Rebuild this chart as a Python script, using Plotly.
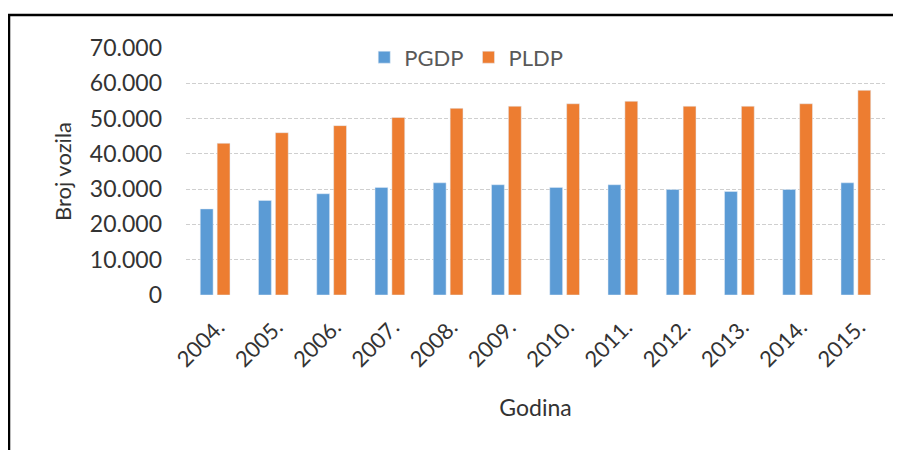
import plotly.graph_objects as go

years = ["2004.", "2005.", "2006.", "2007.", "2008.", "2009.",
         "2010.", "2011.", "2012.", "2013.", "2014.", "2015."]
pgdp = [24400, 26800, 28700, 30500, 31800, 31250,
        30500, 31250, 29900, 29350, 29900, 31800]
pldp = [43000, 46000, 48000, 50300, 52900, 53500,
        54200, 54900, 53500, 53500, 54200, 58000]
y_ticks = [0, 10000, 20000, 30000, 40000, 50000, 60000, 70000]
y_labels = ["0", "10.000", "20.000", "30.000", "40.000", "50.000", "60.000", "70.000"]

FONT = "Lato"

fig = go.Figure()
fig.add_trace(go.Bar(x=years, y=pgdp, name="PGDP", marker_color="#5B9BD5"))
fig.add_trace(go.Bar(x=years, y=pldp, name="PLDP", marker_color="#ED7D31"))

# page has an 8px body margin, so the figure is a bit smaller than the window
fig.update_layout(
    width=893, height=442,
    margin=dict(l=178, r=16, t=40, b=155),
    paper_bgcolor="white", plot_bgcolor="white",
    barmode="group", bargap=0.42, bargroupgap=0.24,
    font=dict(family=FONT, color="#404040"),
    legend=dict(orientation="h", x=0.255, y=0.962, xanchor="left", yanchor="middle",
                font=dict(size=22, color="#595959"), bgcolor="rgba(0,0,0,0)",
                itemwidth=30, traceorder="normal"),
    xaxis=dict(
        tickangle=-45, tickfont=dict(size=22, color="#333333"),
        showgrid=False, showline=False, ticks="",
        ticklabelstandoff=14, ticklabelshift=3,
        title=dict(text="Godina", font=dict(size=23, color="#333333"), standoff=28),
    ),
    yaxis=dict(
        range=[0, 70000], tickvals=y_ticks, ticktext=y_labels,
        tickfont=dict(size=23, color="#333333"),
        showgrid=True, gridcolor="#cfcfcf", gridwidth=1, griddash="4px,2px",
        zeroline=False, ticks="", ticklabelstandoff=23,
        title=dict(text="Broj vozila", font=dict(size=22, color="#333333"), standoff=12),
    ),
    shapes=[
        dict(type="line", xref="paper", yref="paper", x0=-0.256, x1=1.03, y0=1.1336, y1=1.1336,
             line=dict(color="black", width=2.5)),
        dict(type="line", xref="paper", yref="paper", x0=-0.2532, x1=-0.2532, y0=1.138, y1=-0.7,
             line=dict(color="black", width=2.5)),
    ],
)

fig.write_html("out.html")
